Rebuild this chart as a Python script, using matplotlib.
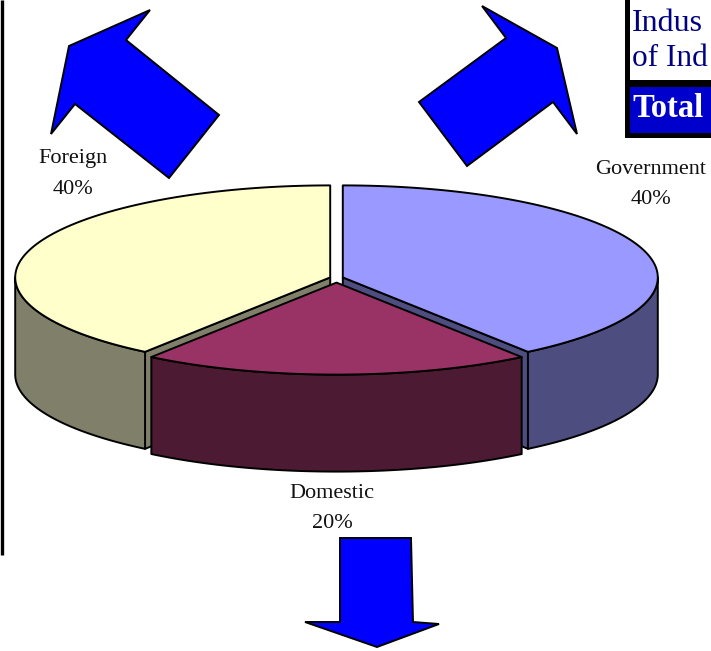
import numpy as np
import matplotlib
matplotlib.use("Agg")
import matplotlib.pyplot as plt
from matplotlib.patches import Polygon, Rectangle

# slice data (clockwise from 12 o'clock)
categories = ["Government", "Domestic", "Foreign"]
shares = [40, 20, 40]
top_colors = ["#9999FF", "#993366", "#FFFFCC"]
side_colors = ["#4D4D80", "#4D1A33", "#80806A"]
explode = [0.021, 0.05, 0.021]
label_xy = [(651, 170), (332, 493), (73, 159)]

# title box text, as much of it as shows on the slide
title_lines = ["Indus", "of Ind"]
subtitle = "Total"

# pie geometry in pixels
cx, cy = 336.5, 278
rx, ry = 315, 92
depth = 97

# decorative block arrows (pixel outlines)
arrow_shapes = [
    [(150, 10), (69, 46), (51, 134), (75, 104), (169, 178), (219, 115), (126, 40)],
    [(482, 6), (557, 48), (577, 134), (553, 102), (467, 166), (419, 102), (506, 38)],
    [(340, 538), (411, 538), (413, 622), (439, 624), (377, 647), (305, 622), (340, 622)],
]

serif = "Liberation Serif"
LW = 1.4

fig = plt.figure(figsize=(7.11, 6.51), dpi=100)
ax = fig.add_axes([0, 0, 1, 1])
ax.set_xlim(0, 711)
ax.set_ylim(651, 0)
ax.axis("off")


def rim(theta, ox, oy, dz=0.0):
    t = np.radians(theta)
    return ox + rx * np.cos(t), oy - ry * np.sin(t) + dz


# work out slice angles
total = float(sum(shares))
slices = []
start = 90.0
for i, s in enumerate(shares):
    sweep = s / total * 360.0
    t2, t1 = start, start - sweep
    mid = (t1 + t2) / 2.0
    slices.append((i, t1, t2, mid))
    start = t1

# back slices first
slices.sort(key=lambda s: -np.sin(np.radians(s[3])))

for i, t1, t2, mid in slices:
    m = np.radians(mid)
    ox = cx + explode[i] * rx * np.cos(m)
    oy = cy - explode[i] * ry * np.sin(m)
    top, side = top_colors[i], side_colors[i]

    # radial cut faces that face the viewer
    for th, normal in ((t1, t1 - 90), (t2, t2 + 90)):
        if np.sin(np.radians(normal)) < -1e-6:
            px, py = rim(th, ox, oy)
            face = [(ox, oy), (px, py), (px, py + depth), (ox, oy + depth)]
            ax.add_patch(Polygon(face, closed=True, fc=side, ec="black", lw=LW, joinstyle="round"))

    # outer wall on the front half
    a0, a1 = max(t1, -180.0), min(t2, 0.0)
    if a1 > a0:
        th = np.linspace(a0, a1, 80)
        xs, ys = rim(th, ox, oy)
        wall = list(zip(xs, ys)) + list(zip(xs[::-1], ys[::-1] + depth))
        ax.add_patch(Polygon(wall, closed=True, fc=side, ec="black", lw=LW, joinstyle="round"))

    # top face
    th = np.linspace(t1, t2, 150)
    xs, ys = rim(th, ox, oy)
    face = [(ox, oy)] + list(zip(xs, ys))
    ax.add_patch(Polygon(face, closed=True, fc=top, ec="black", lw=LW, joinstyle="round"))

# slice labels: name, then share underneath
for i, cat in enumerate(categories):
    lx, ly = label_xy[i]
    ax.text(lx, ly, cat, ha="center", va="center",
            fontsize=16, family=serif, color="#111111")
    ax.text(lx, ly + 30, f"{shares[i]}%", ha="center", va="center",
            fontsize=16, family=serif, color="#111111")

# arrows
for shape in arrow_shapes:
    ax.add_patch(Polygon(shape, closed=True, fc="#0000FF", ec="black", lw=LW, joinstyle="miter"))

# left rule
ax.plot([1.5, 1.5], [0, 555], color="black", lw=2.4, solid_capstyle="butt")

# title box in the corner
ax.add_patch(Rectangle((625, -10), 120, 148, fc="black", ec="none"))
ax.add_patch(Rectangle((630, -10), 120, 90, fc="white", ec="none"))
ax.add_patch(Rectangle((630, 87), 120, 46, fc="#0000CC", ec="none"))
ax.text(632, 31, title_lines[0], ha="left", va="baseline", fontsize=23,
        family=serif, color="#000080")
ax.text(632, 66, title_lines[1], ha="left", va="baseline", fontsize=22.5,
        family=serif, color="#000080")
ax.text(632, 117, subtitle, ha="left", va="baseline", fontsize=23.5,
        family=serif, color="white", fontweight="bold")

fig.savefig("out.png", dpi=100)
